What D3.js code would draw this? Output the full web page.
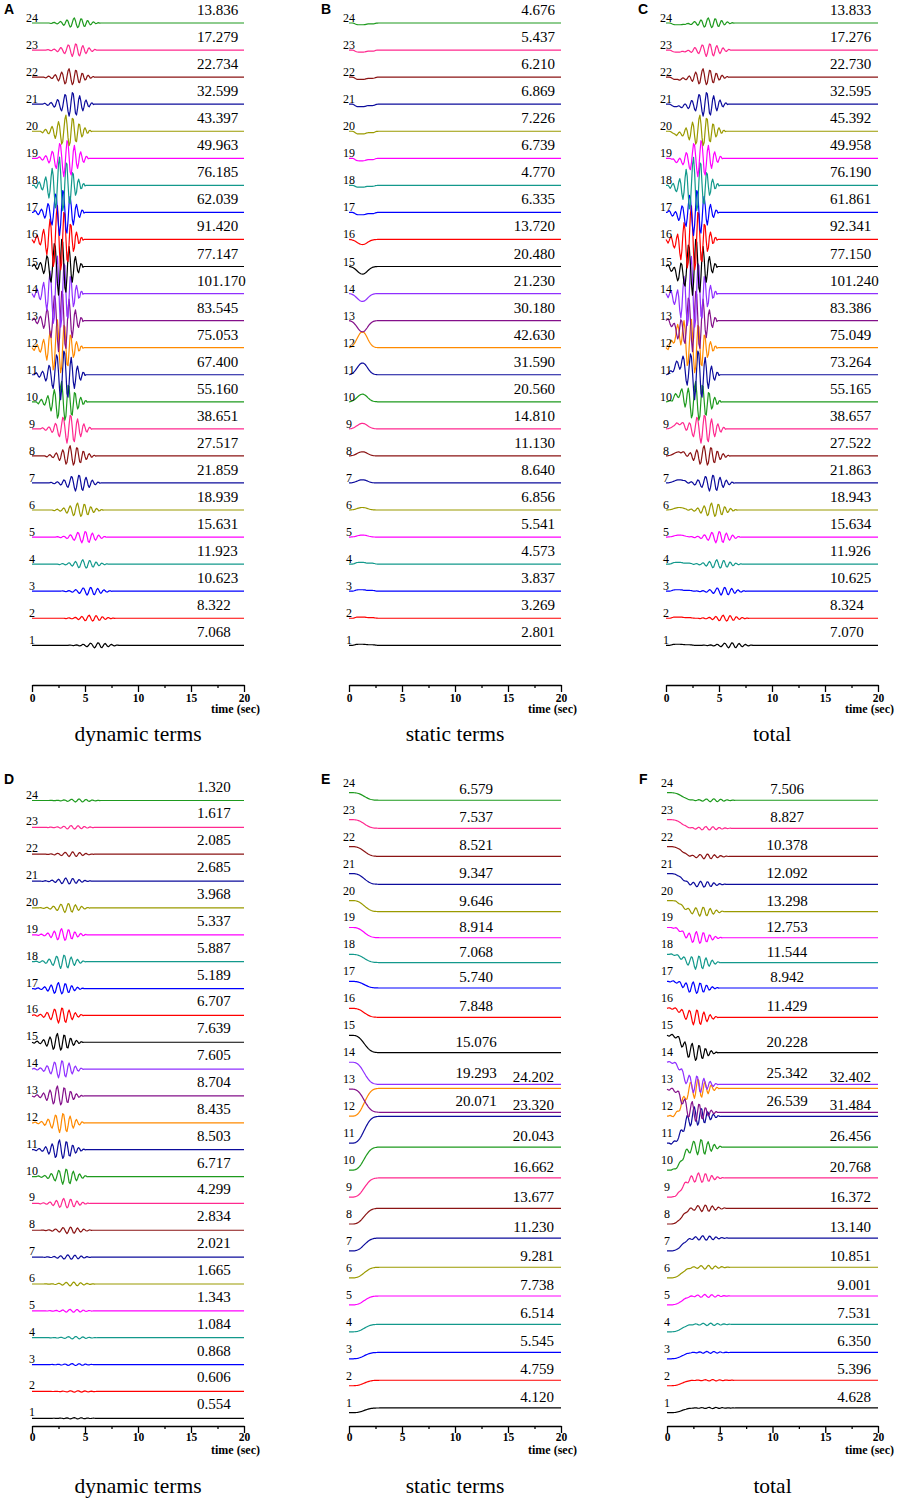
<!DOCTYPE html>
<html>
<head>
<meta charset="utf-8">
<script src="https://cdn.jsdelivr.net/npm/d3@7"></script>
<style>
  body { margin: 0; background: #fff; }
  svg text { font-family: "Liberation Serif", "Times New Roman", serif; fill: #000; }
</style>
</head>
<body>
<svg id="chart" width="902" height="1500"></svg>
<script>
// every array below is listed from trace 1 (bottom) up to trace 24 (top)
var traceIds = d3.range(1, 25);

// peak values printed beside each trace
var dynamicPeakA = [7.068, 8.322, 10.623, 11.923, 15.631, 18.939, 21.859, 27.517, 38.651, 55.160, 67.400, 75.053,
  83.545, 101.170, 77.147, 91.420, 62.039, 76.185, 49.963, 43.397, 32.599, 22.734, 17.279, 13.836];
var staticPeakB = [2.801, 3.269, 3.837, 4.573, 5.541, 6.856, 8.640, 11.130, 14.810, 20.560, 31.590, 42.630,
  30.180, 21.230, 20.480, 13.720, 6.335, 4.770, 6.739, 7.226, 6.869, 6.210, 5.437, 4.676];
var totalPeakC = [7.070, 8.324, 10.625, 11.926, 15.634, 18.943, 21.863, 27.522, 38.657, 55.165, 73.264, 75.049,
  83.386, 101.240, 77.150, 92.341, 61.861, 76.190, 49.958, 45.392, 32.595, 22.730, 17.276, 13.833];
var dynamicPeakD = [0.554, 0.606, 0.868, 1.084, 1.343, 1.665, 2.021, 2.834, 4.299, 6.717, 8.503, 8.435,
  8.704, 7.605, 7.639, 6.707, 5.189, 5.887, 5.337, 3.968, 2.685, 2.085, 1.617, 1.320];
var staticPeakE = [4.120, 4.759, 5.545, 6.514, 7.738, 9.281, 11.230, 13.677, 16.662, 20.043, 23.320, 24.202,
  20.071, 19.293, 15.076, 7.848, 5.740, 7.068, 8.914, 9.646, 9.347, 8.521, 7.537, 6.579];
var totalPeakF = [4.628, 5.396, 6.350, 7.531, 9.001, 10.851, 13.140, 16.372, 20.768, 26.456, 31.484, 32.402,
  26.539, 25.342, 20.228, 11.429, 8.942, 11.544, 12.753, 13.298, 12.092, 10.378, 8.827, 7.506];

// arrival of the wave packets (sec)
var onsetA = [3.4, 3.0, 2.7, 2.4, 2.2, 1.9, 1.6, 1.2, 0.8, 0.4, 0.2, 0.0,
  0.0, 0.0, 0.0, 0.0, 0.1, 0.2, 0.5, 0.8, 1.0, 1.1, 1.3, 1.6];
var onsetD = [1.6, 1.5, 1.4, 1.3, 1.2, 1.1, 1.0, 0.8, 0.6, 0.4, 0.2, 0.1,
  0.0, 0.0, 0.0, 0.0, 0.1, 0.2, 0.4, 0.6, 0.8, 1.0, 1.3, 1.6];

// sign of the static term (up for 1-12, down for 13-24)
var staticPolarity = [1, 1, 1, 1, 1, 1, 1, 1, 1, 1, 1, 1,
  -1, -1, -1, -1, -1, -1, -1, -1, -1, -1, -1, -1];
// pulse form of the static velocity term
var pulseKind = ['box', 'box', 'box', 'box', 'bump', 'bump', 'bump', 'bump', 'bump', 'bump', 'bump', 'bump',
  'bump', 'bump', 'bump', 'bump', 'box', 'box', 'box', 'box', 'box', 'box', 'box', 'box'];

// normalised trace shapes, one sample every 0.1 sec
var packetShapeOne = [0, 0.04, 0.08, 0.03, -0.06, -0.1, -0.04, 0.08, 0.14, 0.06,
  -0.12, -0.25, -0.15, 0.15, 0.38, 0.3, -0.05, -0.42, -0.55, -0.2,
  0.35, 0.8, 0.7, 0.1, -0.6, -1.0, -0.55, 0.3, 0.95, 0.85,
  0.1, -0.75, -0.9, -0.35, 0.4, 0.7, 0.3, -0.3, -0.55, -0.25,
  0.2, 0.35, 0.12, -0.15, -0.22, -0.05, 0.1, 0.08, -0.03, 0];
var packetShapeTwo = [0, -0.05, -0.1, -0.02, 0.08, 0.12, 0.02, -0.12, -0.16, -0.04,
  0.18, 0.3, 0.12, -0.25, -0.45, -0.2, 0.3, 0.6, 0.35, -0.3,
  -0.8, -0.65, 0.05, 0.75, 1.0, 0.45, -0.4, -0.9, -0.7, 0.1,
  0.8, 0.75, 0.05, -0.6, -0.65, -0.1, 0.45, 0.4, -0.05, -0.35,
  -0.25, 0.1, 0.22, 0.08, -0.12, -0.1, 0.04, 0.06, -0.02, 0];
var bumpShape = [0, 0.02, 0.05, 0.1, 0.17, 0.26, 0.37, 0.5, 0.63, 0.76, 0.87, 0.95, 0.99, 1.0, 0.97, 0.9,
  0.79, 0.66, 0.52, 0.39, 0.28, 0.19, 0.12, 0.07, 0.04, 0.02, 0.01, 0, 0, 0, 0];
var boxShape = [0, 0, 0, 0, 0.1, 0.3, 0.6, 0.85, 0.97, 1, 1, 1, 1, 1, 0.98, 0.9,
  0.75, 0.62, 0.56, 0.55, 0.55, 0.55, 0.54, 0.5, 0.38, 0.2, 0.08, 0.02, 0, 0, 0];
var stepShape = [0, 0, 0, 0, 0, 0.01, 0.02, 0.04, 0.07, 0.11, 0.16, 0.22, 0.29, 0.37, 0.45, 0.53, 0.61, 0.68,
  0.75, 0.81, 0.86, 0.9, 0.93, 0.955, 0.97, 0.98, 0.988, 0.994, 0.997, 1];

var timeTicks = [0, 5, 10, 15, 20];
var minorTicks = [2.5, 7.5, 12.5, 17.5];
var timeGrid = d3.range(0, 201).map(function(i) { return i / 10; });

var traceColors = ['#000000', '#ff0000', '#0000ff', '#13998c', '#ff00ff', '#9a9a00', '#0c0c9c',
  '#8b1414', '#ff2a8f', '#1e9a1e', '#0c0c9c', '#ff8a00', '#84108a', '#9030ff'];

// shape placed at its onset, holding the first / last sample outside it
function placeShape(shape, onset, peak, sign) {
  var shift = Math.round(onset * 10);
  return timeGrid.map(function(t, i) {
    var j = Math.min(Math.max(i - shift, 0), shape.length - 1);
    return shape[j] * peak * sign;
  });
}

function addSeries(a, b) {
  return a.map(function(v, i) { return v + b[i]; });
}

var seriesA = traceIds.map(function(k, i) {
  return placeShape(k % 2 ? packetShapeOne : packetShapeTwo, onsetA[i], dynamicPeakA[i], 1);
});
var seriesB = traceIds.map(function(k, i) {
  return placeShape(pulseKind[i] === 'box' ? boxShape : bumpShape, 0, staticPeakB[i], staticPolarity[i]);
});
var seriesC = seriesA.map(function(s, i) { return addSeries(s, seriesB[i]); });
var seriesD = traceIds.map(function(k, i) {
  return placeShape(k % 2 ? packetShapeTwo : packetShapeOne, onsetD[i], dynamicPeakD[i], 1);
});
var seriesE = traceIds.map(function(k, i) {
  return placeShape(stepShape, 0, staticPeakE[i], staticPolarity[i]);
});
var seriesF = seriesD.map(function(s, i) { return addSeries(s, seriesE[i]); });

var rowTop = { axisY: 685, captionY: 741, letterY: 14, pxPerUnit: 0.37, timeDy: 28, tickDy: -1 };
var rowBottom = { axisY: 1426, captionY: 1493, letterY: 784, pxPerUnit: 1.15, timeDy: 28, tickDy: -3 };

var panels = [
  { letter: 'A', row: rowTop, x0: 32, x1: 244, base: [645.3, 23], series: seriesA, peaks: dynamicPeakA,
    caption: 'dynamic terms', numDy: 1, labelDy: 8, labelAt: function() { return ['start', 197]; } },
  { letter: 'B', row: rowTop, x0: 349, x1: 561, base: [645.3, 23], series: seriesB, peaks: staticPeakB,
    caption: 'static terms', numDy: 1, labelDy: 8, labelAt: function() { return ['end', 555]; } },
  { letter: 'C', row: rowTop, x0: 666, x1: 878, base: [645.3, 23], series: seriesC, peaks: totalPeakC,
    caption: 'total', numDy: 1, labelDy: 8, labelAt: function() { return ['start', 830]; } },
  { letter: 'D', row: rowBottom, x0: 32, x1: 244, base: [1418.3, 800.5], series: seriesD, peaks: dynamicPeakD,
    caption: 'dynamic terms', numDy: 2, labelDy: 9, labelAt: function() { return ['start', 197]; } },
  { letter: 'E', row: rowBottom, x0: 349, x1: 561, base: [1412.7, 792.7], series: seriesE, peaks: staticPeakE,
    caption: 'static terms', numDy: 6, labelDy: 6, fromEnd: true,
    labelAt: function(k) { return k <= 12 ? ['end', 554] : ['middle', 476]; } },
  { letter: 'F', row: rowBottom, x0: 667, x1: 878, base: [1412.7, 792.7], series: seriesF, peaks: totalPeakF,
    caption: 'total', numDy: 6, labelDy: 6, fromEnd: true,
    labelAt: function(k) { return k <= 12 ? ['end', 871] : ['middle', 787]; } }
];

var svg = d3.select('#chart');

panels.forEach(function(p) {
  var x = d3.scaleLinear().domain([0, 20]).range([p.x0, p.x1]);
  var yBase = d3.scaleLinear().domain([1, 24]).range(p.base);
  var yAmp = d3.scaleLinear().domain([0, 1]).range([0, p.row.pxPerUnit]);
  var g = svg.append('g');

  traceIds.forEach(function(k, i) {
    var vals = p.series[i];
    var line = d3.line()
      .x(function(d, j) { return x(timeGrid[j]); })
      .y(function(d) { return yBase(k) - yAmp(d); });

    g.append('path')
      .attr('d', line(vals))
      .attr('fill', 'none')
      .attr('stroke', traceColors[i % traceColors.length])
      .attr('stroke-width', 1.2)
      .attr('stroke-linejoin', 'round');

    g.append('text')
      .attr('x', x(0))
      .attr('y', yBase(k) - p.numDy)
      .attr('text-anchor', 'middle')
      .style('font-size', '12px')
      .text(k);

    var endLevel = p.fromEnd ? yBase(k) - yAmp(vals[vals.length - 1]) : yBase(k);
    var pos = p.labelAt(k);
    g.append('text')
      .attr('x', pos[1])
      .attr('y', endLevel - p.labelDy)
      .attr('text-anchor', pos[0])
      .style('font-size', '15px')
      .text(p.peaks[i].toFixed(3));
  });

  var axisG = g.append('g').attr('transform', 'translate(0,' + p.row.axisY + ')');
  axisG.call(d3.axisBottom(x).tickValues(timeTicks).tickSize(7).tickSizeOuter(0).tickFormat(d3.format('d')));
  axisG.append('g').call(d3.axisBottom(x).tickValues(minorTicks).tickSize(3).tickSizeOuter(0).tickFormat(''))
    .select('.domain').remove();
  axisG.selectAll('.domain').attr('stroke-width', 1.6);
  axisG.selectAll('.tick line').attr('stroke-width', 1.3);
  axisG.selectAll('.tick text')
    .attr('y', 10 + p.row.tickDy)
    .style('font-family', '"Liberation Serif", serif')
    .style('font-weight', 'bold')
    .style('font-size', '11.5px');

  g.append('text')
    .attr('x', p.x1 - 33)
    .attr('y', p.row.axisY + p.row.timeDy)
    .style('font-weight', 'bold')
    .style('font-size', '12px')
    .text('time (sec)');

  g.append('text')
    .attr('x', (p.x0 + p.x1) / 2)
    .attr('y', p.row.captionY)
    .attr('text-anchor', 'middle')
    .style('font-size', '21.5px')
    .text(p.caption);

  g.append('text')
    .attr('x', p.x0 - 28)
    .attr('y', p.row.letterY)
    .style('font-family', '"Liberation Sans", Arial, sans-serif')
    .style('font-weight', 'bold')
    .style('font-size', '14px')
    .text(p.letter);
});
</script>
</body>
</html>
